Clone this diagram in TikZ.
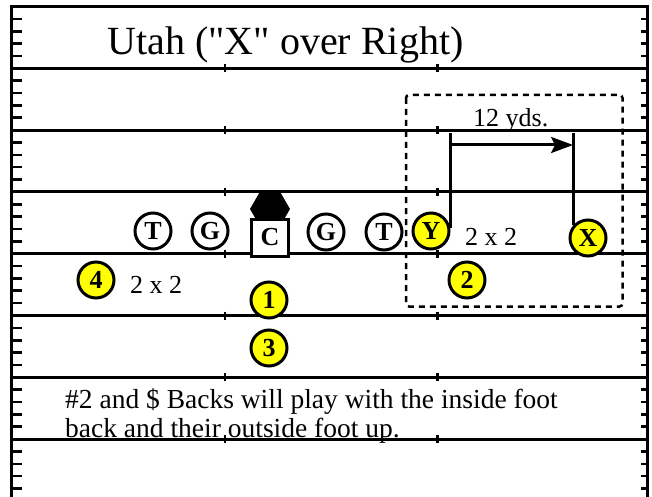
\documentclass[tikz,border=0pt]{standalone}
\usepackage{fontspec}
\setmainfont{Liberation Serif}
\newfontfamily\plainserif{Liberation Serif}[Ligatures=TeXOff]
\usetikzlibrary{arrows.meta,shapes.geometric}
\definecolor{pyellow}{RGB}{255,255,0}
\begin{document}
\begin{tikzpicture}[x=1pt,y=-1pt,
  fieldline/.style={line width=3pt},
  tickmark/.style={line width=2.6pt},
  player/.style={circle, draw, line width=3pt, fill=white, minimum size=36pt, inner sep=0pt, font=\fontsize{26}{30}\selectfont\bfseries},
  backplayer/.style={player, fill=pyellow},
  centerbox/.style={rectangle, draw, line width=3pt, fill=white, minimum size=37pt, inner sep=0pt, font=\fontsize{26}{30}\selectfont\bfseries},
  lbl/.style={font=\fontsize{26}{30}\selectfont, inner sep=0pt, anchor=base west},
  notelbl/.style={font=\fontsize{27.5}{30}\selectfont, inner sep=0pt, anchor=base west},
  route/.style={line width=3pt},
  zonebox/.style={dash pattern=on 6pt off 5pt, line width=2.5pt, rounded corners=3pt}
]
\useasboundingbox (0,0) rectangle (652,497);
\fill[white] (0,0) rectangle (652,497);

% yard lines
\foreach \k in {1,...,7} {
  \draw[fieldline] (11.5,{6.5+61.8*\k}) -- (647.5,{6.5+61.8*\k});
  \draw[tickmark] (225,{6.5+61.8*\k-4}) -- (225,{6.5+61.8*\k+4});
  \draw[tickmark] (437.5,{6.5+61.8*\k-4}) -- (437.5,{6.5+61.8*\k+4});
}
% side hash marks
\foreach \k in {0,...,7} {
  \foreach \j in {1,...,4} {
    \draw[tickmark] (11.5,{6.5+61.8*\k+12.36*\j}) -- (22,{6.5+61.8*\k+12.36*\j});
    \draw[tickmark] (641,{6.5+61.8*\k+12.36*\j}) -- (647.5,{6.5+61.8*\k+12.36*\j});
  }
}
% border
\draw[fieldline] (11.5,500) -- (11.5,6.5) -- (647.5,6.5) -- (647.5,500);

% title
\node[font=\plainserif\fontsize{40}{48}\selectfont, inner sep=0pt, anchor=base] (title) at (285.5,55) {Utah ("X" over Right)};

% zone box
\draw[zonebox] (406,95) rectangle (622.5,306.5);

% offense
\node[player] (T1) at (153,231) {T};
\node[player] (G1) at (210,231) {G};
\node[regular polygon, regular polygon sides=6, fill=black, minimum size=40pt, inner sep=0pt] (ball) at (270,209) {};
\node[centerbox] (C) at (270,237.5) {C};
\node[player] (G2) at (326,232) {G};
\node[player] (T2) at (384,232) {T};
\node[backplayer] (Y) at (431,231) {Y};
\node[backplayer] (X) at (588,238) {X};
\node[backplayer] (B2) at (467,280) {2};
\node[backplayer] (B4) at (96,280) {4};
\node[backplayer] (B1) at (269,300) {1};
\node[backplayer] (B3) at (269,348) {3};

% labels
\node[lbl] (split4) at (130,293) {2 x 2};
\node[lbl] (splitY) at (465,245) {2 x 2};
\node[lbl] (yds) at (473,127) {12 yds.};
\node[notelbl] (note1) at (65,408) {\#2 and \$ Backs will play with the inside foot};
\node[notelbl] (note2) at (65,437.7) {back and their outside foot up.};

% split measurement
\coordinate (ytop) at (Y.10 |- 0,133);
\coordinate (xtop) at (X.140 |- 0,133);
\coordinate (ya) at (Y.10 |- 0,145);
\coordinate (xa) at (X.140 |- 0,145);
\draw[route] (Y.10) -- (ytop);
\draw[route] (X.140) -- (xtop);
\draw[route, -{Stealth[length=22pt,width=16pt,inset=4pt]}] (ya) -- (xa);
\end{tikzpicture}
\end{document}
